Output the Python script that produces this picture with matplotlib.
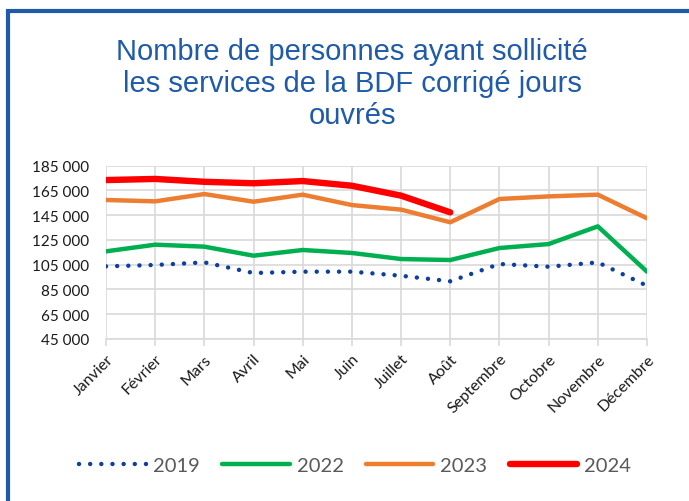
import numpy as np
import matplotlib
matplotlib.use('Agg')
import matplotlib.pyplot as plt
from matplotlib.patches import Rectangle

months = ['Janvier', 'Février', 'Mars', 'Avril', 'Mai', 'Juin', 'Juillet', 'Août',
          'Septembre', 'Octobre', 'Novembre', 'Décembre']
v2019 = [103700, 104800, 106900, 98300, 99400, 99400, 96100, 91600, 105600, 103400, 106900, 88000]
v2022 = [115800, 121200, 119600, 112300, 116900, 114500, 109600, 108800, 118500, 121700, 136000, 99400]
v2023 = [157300, 156200, 162100, 155900, 161600, 153200, 149500, 139300, 158100, 160200, 161600, 142500]
v2024 = [173400, 174300, 172000, 170800, 172600, 168800, 160800, 147300]
yticks = [45000, 65000, 85000, 105000, 125000, 145000, 165000, 185000]

fig = plt.figure(figsize=(6.89, 5.02), dpi=100)
W, H = 689, 502

# blue frame round the chart
fig.patches.append(Rectangle((8 / W, -0.1), 1.2, (H - 12) / H + 0.1, transform=fig.transFigure,
                             fill=False, edgecolor='#1F5BA8', linewidth=3))

ax = fig.add_axes([106 / W, 1 - 340 / H, (647 - 106) / W, (340 - 166.7) / H])

x = np.arange(len(months))
ax.plot(x, v2019, color='#0D3FA0', linewidth=3.2, linestyle=(0, (0.01, 2.5)),
        dash_capstyle='round', label='2019')
ax.plot(x, v2022, color='#00B050', linewidth=3.2, label='2022', solid_capstyle='round')
ax.plot(x, v2023, color='#ED7D31', linewidth=3.2, label='2023', solid_capstyle='round')
ax.plot(x[:len(v2024)], v2024, color='#FF0000', linewidth=4.6, label='2024',
        solid_capstyle='round')

ax.set_xlim(0, len(months) - 1)
ax.set_ylim(45000, 185000)
ax.set_yticks(yticks)
ax.set_yticklabels([f'{v:,}'.replace(',', ' ') for v in yticks],
                   fontsize=11, color='#1a1a1a', family='Lato')
ax.set_xticks(x)
ax.set_xticklabels(months, rotation=45, ha='right', rotation_mode='anchor',
                   fontsize=11.5, color='#1a1a1a', family='Lato')
ax.tick_params(axis='y', length=0, pad=12)
ax.tick_params(axis='x', length=5, color='#D9D9D9', width=1.2, pad=4)
ax.grid(True, color='#D9D9D9', linewidth=1.2)
ax.set_axisbelow(True)
for s in ax.spines.values():
    s.set_visible(False)
ax.spines['bottom'].set_visible(True)
ax.spines['bottom'].set_color('#D9D9D9')
ax.spines['bottom'].set_linewidth(1.2)

fig.text(352 / W, 1 - 84 / H,
         'Nombre de personnes ayant sollicité\nles services de la BDF corrigé jours\nouvrés',
         ha='center', va='center', fontsize=21, color='#1F5BA8',
         family='Liberation Sans', linespacing=1.2)

leg = fig.legend(loc='center', bbox_to_anchor=(355 / W, 1 - 466 / H), ncol=4, frameon=False,
                 handlelength=3.35, columnspacing=1.1, handletextpad=0.35,
                 prop={'family': 'Lato', 'size': 14.5})
for t in leg.get_texts():
    t.set_color('#595959')

fig.savefig('out.png', dpi=100)
